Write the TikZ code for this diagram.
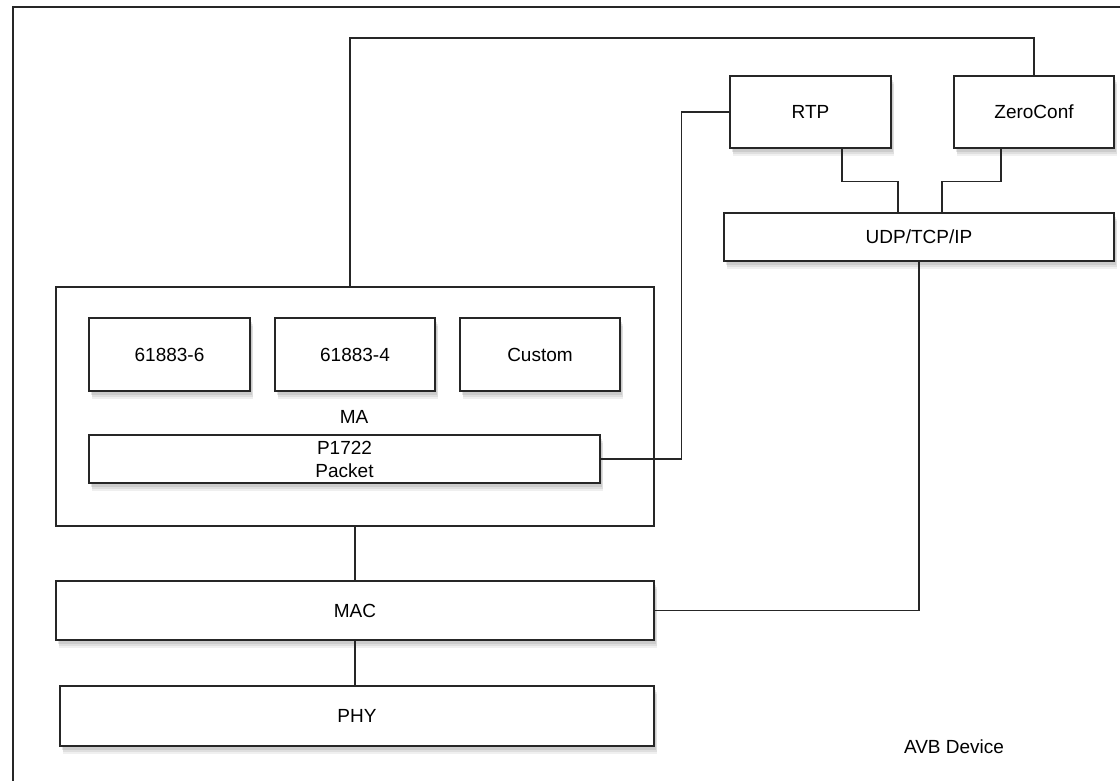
\documentclass[tikz,border=0pt]{standalone}
\usepackage{fontspec}
\setmainfont{Liberation Sans}
\usetikzlibrary{shadows,calc}
\begin{document}
\begin{tikzpicture}[x=1pt,y=-1pt,
  line/.style={draw=black!85,line width=1.2pt},
  softshadow/.style={
    drop shadow={opacity=0.12,shadow xshift=3pt,shadow yshift=-8pt},
    drop shadow={opacity=0.15,shadow xshift=2.5pt,shadow yshift=-6pt},
    drop shadow={opacity=0.2,shadow xshift=2pt,shadow yshift=-4pt}},
  blk/.style={line,fill=white,inner sep=0pt,softshadow,
    font=\fontsize{19}{23}\selectfont,align=center},
  container/.style={line,fill=white,inner sep=0pt},
  lbl/.style={font=\fontsize{19}{23}\selectfont,inner sep=0pt},
  conn/.style={line}]
\useasboundingbox (0,0) rectangle (1120,781);
% outer frame (extends beyond picture)
\draw[line] (13,900) -- (13,7) -- (1200,7);
% upper right stack
\node[blk,minimum width=161pt,minimum height=72pt] (rtp) at (810.5,112) {RTP};
\node[blk,minimum width=160pt,minimum height=72pt] (zero) at (1034,112) {ZeroConf};
\node[blk,minimum width=390pt,minimum height=48pt] (udp) at (919,237) {UDP/TCP/IP};
% MA container
\node[container,minimum width=598pt,minimum height=239pt] (ma) at (355,406.5) {};
\node[blk,minimum width=161pt,minimum height=73pt] (b6) at (169.5,354.5) {61883-6};
\node[blk,minimum width=160pt,minimum height=73pt] (b4) at (355,354.5) {61883-4};
\node[blk,minimum width=160pt,minimum height=73pt] (cust) at (540,354.5) {Custom};
\node[lbl] (malbl) at (354,417) {MA};
\node[blk,minimum width=511pt,minimum height=48pt] (pkt) at (344.5,459) {P1722\\Packet};
% lower layers
\node[blk,minimum width=598pt,minimum height=59pt] (mac) at (355,610.5) {MAC};
\node[blk,minimum width=594pt,minimum height=60pt] (phy) at (357,716) {PHY};
\node[lbl] (avb) at (954,747) {AVB Device};
% connectors
\coordinate (topy) at (350,38);
\draw[conn] ([xshift=-5pt]ma.north) -- ([xshift=-5pt]ma.north |- topy) -| (zero.north);
\draw[conn] (rtp.west) -- ++(-48,0) |- (pkt.east);
\draw[conn] ([xshift=31.5pt]rtp.south) -- ++(0,33) -| ([xshift=-21pt]udp.north);
\draw[conn] ([xshift=-33pt]zero.south) -- ++(0,33) -| ([xshift=23pt]udp.north);
\draw[conn] (udp.south) |- (mac.east);
\draw[conn] (ma.south) -- (mac.north);
\draw[conn] (mac.south) -- (mac.south |- phy.north);
\end{tikzpicture}
\end{document}
